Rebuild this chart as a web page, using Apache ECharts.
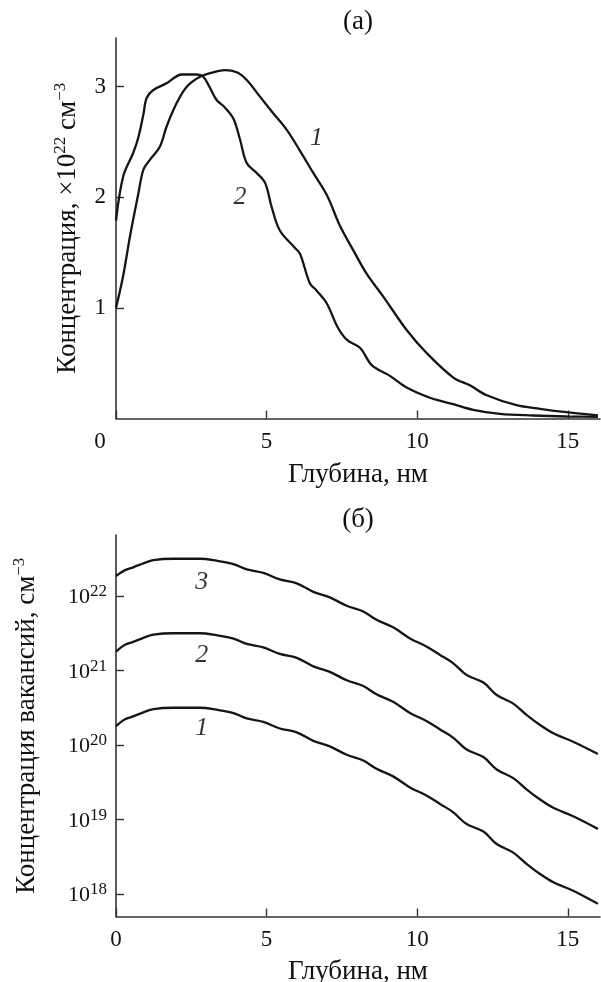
<!DOCTYPE html>
<html><head><meta charset="utf-8">
<script src="https://cdn.jsdelivr.net/npm/echarts@6/dist/echarts.min.js"></script>
<style>html,body{margin:0;padding:0;background:#fff}#c{width:601px;height:982px}</style>
</head><body><div id="c"></div>
<script>
// ---------- panel (а): linear concentration, ×10^22 cm^-3 ----------
const depthA1 = [0, 0.23, 0.48, 0.74, 0.91, 1.13, 1.46, 1.68, 2.01, 2.35, 2.79, 3.23, 3.62, 4.01, 4.34, 4.78, 5.22, 5.67, 6.11, 6.55, 7.0, 7.44, 7.88, 8.32, 8.88, 9.65, 10.32, 11.2, 11.75, 12.31, 13.3, 14.08, 14.96, 16];
const concA1  = [1.00, 1.28, 1.67, 2.03, 2.25, 2.34, 2.46, 2.64, 2.85, 3.00, 3.09, 3.13, 3.15, 3.13, 3.06, 2.91, 2.76, 2.61, 2.42, 2.22, 2.02, 1.74, 1.52, 1.31, 1.10, 0.80, 0.59, 0.37, 0.30, 0.21, 0.12, 0.088, 0.057, 0.027];
const depthA2 = [0, 0.24, 0.57, 0.75, 0.91, 1.02, 1.24, 1.68, 2.18, 2.68, 2.9, 3.12, 3.34, 3.62, 3.9, 4.12, 4.34, 4.67, 4.95, 5.17, 5.44, 5.95, 6.11, 6.44, 6.65, 7.0, 7.35, 7.67, 8.1, 8.5, 9.07, 9.65, 10.45, 11.2, 11.86, 12.75, 13.85, 14.96, 16];
const concA2  = [1.79, 2.19, 2.40, 2.55, 2.75, 2.90, 2.97, 3.03, 3.11, 3.11, 3.09, 2.99, 2.88, 2.81, 2.71, 2.52, 2.31, 2.22, 2.13, 1.91, 1.70, 1.54, 1.49, 1.22, 1.16, 1.04, 0.83, 0.71, 0.64, 0.48, 0.39, 0.28, 0.185, 0.13, 0.079, 0.042, 0.027, 0.018, 0.014];
const labelsA = ['1', '2'];
const labelPosA = [[6.66, 2.53], [4.12, 2.0]];

// ---------- panel (б): vacancy concentration, cm^-3 (log) ----------
const depthB = [0, 0.3, 0.57, 0.91, 1.24, 1.9, 2.79, 3.34, 3.9, 4.34, 4.89, 5.44, 6.0, 6.55, 7.1, 7.66, 8.21, 8.65, 9.2, 9.76, 10.32, 10.76, 11.2, 11.64, 12.2, 12.64, 13.19, 13.64, 14.08, 14.52, 15.18, 16];
const vacB3 = [1.86e22, 2.23e22, 2.43e22, 2.75e22, 3.04e22, 3.17e22, 3.17e22, 2.98e22, 2.69e22, 2.28e22, 2.05e22, 1.67e22, 1.48e22, 1.14e22, 9.6e21, 7.4e21, 6.2e21, 4.8e21, 3.8e21, 2.7e21, 2.09e21, 1.62e21, 1.25e21, 8.7e20, 6.9e20, 4.7e20, 3.6e20, 2.53e20, 1.86e20, 1.44e20, 1.11e20, 7.6e19];
const vacB2 = [1.80e21, 2.22e21, 2.43e21, 2.75e21, 3.03e21, 3.17e21, 3.17e21, 2.98e21, 2.69e21, 2.28e21, 2.05e21, 1.67e21, 1.48e21, 1.14e21, 9.6e20, 7.4e20, 6.2e20, 4.8e20, 3.8e20, 2.7e20, 2.09e20, 1.62e20, 1.25e20, 8.7e19, 6.9e19, 4.7e19, 3.6e19, 2.53e19, 1.86e19, 1.44e19, 1.11e19, 7.5e18];
const vacB1 = [1.80e20, 2.22e20, 2.43e20, 2.75e20, 3.03e20, 3.17e20, 3.17e20, 2.98e20, 2.69e20, 2.28e20, 2.05e20, 1.67e20, 1.48e20, 1.14e20, 9.6e19, 7.4e19, 6.2e19, 4.8e19, 3.8e19, 2.7e19, 2.09e19, 1.62e19, 1.25e19, 8.7e18, 6.9e18, 4.7e18, 3.6e18, 2.53e18, 1.86e18, 1.44e18, 1.11e18, 7.4e17];
const labelsB = ['3', '2', '1'];
const labelPosB = [[2.85, 1.55e22], [2.85, 1.62e21], [2.85, 1.66e20]];

const FONT = 'Liberation Serif';
const INK = '#151515';
const TXT = '#111111';
const AX = '#333333';
const NAME_SIZE = 27;
const TICK_SIZE = 23;

function pairs(xs, ys) { return xs.map((x, i) => [x, ys[i]]); }
function labelPts(pos, txt) { return pos.map((p, i) => [p[0], p[1], txt[i]]); }

const lineAxis = { show: true, lineStyle: { color: AX, width: 1.6 } };
const noTick = { show: false };
const noLabel = { show: false };
const tickStyle = { show: true, inside: true, length: 8, lineStyle: { color: AX, width: 1.4 } };
const tickLbl = { fontFamily: FONT, fontSize: TICK_SIZE, color: TXT };
const nameLbl = { fontFamily: FONT, fontSize: NAME_SIZE, color: TXT };
const nameRich = {
  t: { fontFamily: FONT, fontSize: NAME_SIZE, color: TXT, verticalAlign: 'bottom' },
  s: { fontFamily: FONT, fontSize: 17, color: TXT, verticalAlign: 'bottom', padding: [0, 0, 12, 0] }
};

function curve(name, data, xi, yi) {
  return { type: 'line', name, data, xAxisIndex: xi, yAxisIndex: yi, showSymbol: false, symbol: 'none',
    smooth: 0.35, lineStyle: { color: INK, width: 2.3 }, silent: true, z: 3 };
}
function labelSeries(data, xi, yi) {
  return { type: 'scatter', data, xAxisIndex: xi, yAxisIndex: yi, symbolSize: 1, itemStyle: { color: 'rgba(255,255,255,0)' }, silent: true, z: 5,
    label: { show: true, position: 'inside', formatter: p => p.value[2], fontFamily: FONT, fontStyle: 'italic', fontSize: 26, color: '#000' } };
}
function g(left, top, width, height) {
  return { left, top, width, height, containLabel: false, outerBoundsMode: 'none' };
}

const option = {
  animation: false,
  backgroundColor: '#fff',
  graphic: [
    { type: 'text', x: 358, y: 22, style: { text: '(а)', font: '27px "Liberation Serif"', fill: TXT, textAlign: 'center', textVerticalAlign: 'middle' } },
    { type: 'text', x: 358, y: 520, style: { text: '(б)', font: '27px "Liberation Serif"', fill: TXT, textAlign: 'center', textVerticalAlign: 'middle' } }
  ],
  grid: [
    g(116, 38, 484, 380.5),      // 0 main (а)
    g(116, 38, 451.8, 380.5),    // 1 x ticks (а)
    g(116, 86.6, 484, 331.9),    // 2 y ticks (а)
    g(116, 535, 484, 381.5),     // 3 main (б)
    g(116, 535, 451.8, 381.5),   // 4 x ticks (б)
    g(116, 596, 484, 298)        // 5 y ticks (б)
  ],
  xAxis: [
    { gridIndex: 0, type: 'value', min: 0, max: 16.07, axisLine: lineAxis, axisTick: noTick, axisLabel: noLabel, splitLine: { show: false },
      name: 'Глубина, нм', nameLocation: 'middle', nameGap: 43, nameTextStyle: nameLbl },
    { gridIndex: 1, type: 'value', min: 0, max: 15, interval: 5, axisLine: { show: false }, axisTick: tickStyle, splitLine: { show: false },
      axisLabel: Object.assign({ margin: 12, formatter: v => v === 0 ? '{z|0}' : String(v),
        rich: { z: { fontFamily: FONT, fontSize: TICK_SIZE, color: TXT, padding: [0, 32, 0, 0] } } }, tickLbl) },
    { gridIndex: 2, type: 'value', show: false, min: 0, max: 16.07 },
    { gridIndex: 3, type: 'value', min: 0, max: 16.07, axisLine: lineAxis, axisTick: noTick, axisLabel: noLabel, splitLine: { show: false },
      name: 'Глубина, нм', nameLocation: 'middle', nameGap: 42, nameTextStyle: nameLbl },
    { gridIndex: 4, type: 'value', min: 0, max: 15, interval: 5, axisLine: { show: false }, axisTick: tickStyle, splitLine: { show: false },
      axisLabel: Object.assign({ margin: 12 }, tickLbl) },
    { gridIndex: 5, type: 'value', show: false, min: 0, max: 16.07 }
  ],
  yAxis: [
    { gridIndex: 0, type: 'value', min: 0, max: 3.44, axisLine: lineAxis, axisTick: noTick, axisLabel: noLabel, splitLine: { show: false },
      name: '{t|Концентрация, ×10}{s|22}{t| см}{s|−3}', nameLocation: 'middle', nameGap: 35,
      nameTextStyle: { rich: nameRich } },
    { gridIndex: 1, type: 'value', show: false, min: 0, max: 1 },
    { gridIndex: 2, type: 'value', min: 0, max: 3, interval: 1, axisLine: { show: false }, axisTick: tickStyle, splitLine: { show: false },
      axisLabel: Object.assign({ margin: 10, showMinLabel: false }, tickLbl) },
    { gridIndex: 3, type: 'log', min: 5e17, max: 6.6e22, axisLine: lineAxis, axisTick: noTick, axisLabel: noLabel, splitLine: { show: false },
      name: '{t|Концентрация вакансий, см}{s|−3}', nameLocation: 'middle', nameGap: 76,
      nameTextStyle: { rich: nameRich } },
    { gridIndex: 4, type: 'value', show: false, min: 0, max: 1 },
    { gridIndex: 5, type: 'log', min: 1e18, max: 1e22, axisLine: { show: false }, axisTick: tickStyle, splitLine: { show: false },
      axisLabel: { margin: 9, formatter: v => '{b|10}{s|' + Math.round(Math.log10(v)) + '}',
        rich: {
          b: { fontFamily: FONT, fontSize: 22, color: TXT, verticalAlign: 'bottom' },
          s: { fontFamily: FONT, fontSize: 17, color: TXT, verticalAlign: 'bottom', padding: [0, 0, 8, 0] } } } }
  ],
  series: [
    curve('1', pairs(depthA1, concA1), 0, 0),
    curve('2', pairs(depthA2, concA2), 0, 0),
    labelSeries(labelPts(labelPosA, labelsA), 0, 0),
    curve('3', pairs(depthB, vacB3), 3, 3),
    curve('2', pairs(depthB, vacB2), 3, 3),
    curve('1', pairs(depthB, vacB1), 3, 3),
    labelSeries(labelPts(labelPosB, labelsB), 3, 3),
    { type: 'line', data: [], xAxisIndex: 1, yAxisIndex: 1 },
    { type: 'line', data: [], xAxisIndex: 2, yAxisIndex: 2 },
    { type: 'line', data: [], xAxisIndex: 4, yAxisIndex: 4 },
    { type: 'line', data: [], xAxisIndex: 5, yAxisIndex: 5 }
  ]
};
const chart = echarts.init(document.getElementById('c'), null, { renderer: 'canvas' });
chart.setOption(option);
</script></body></html>
